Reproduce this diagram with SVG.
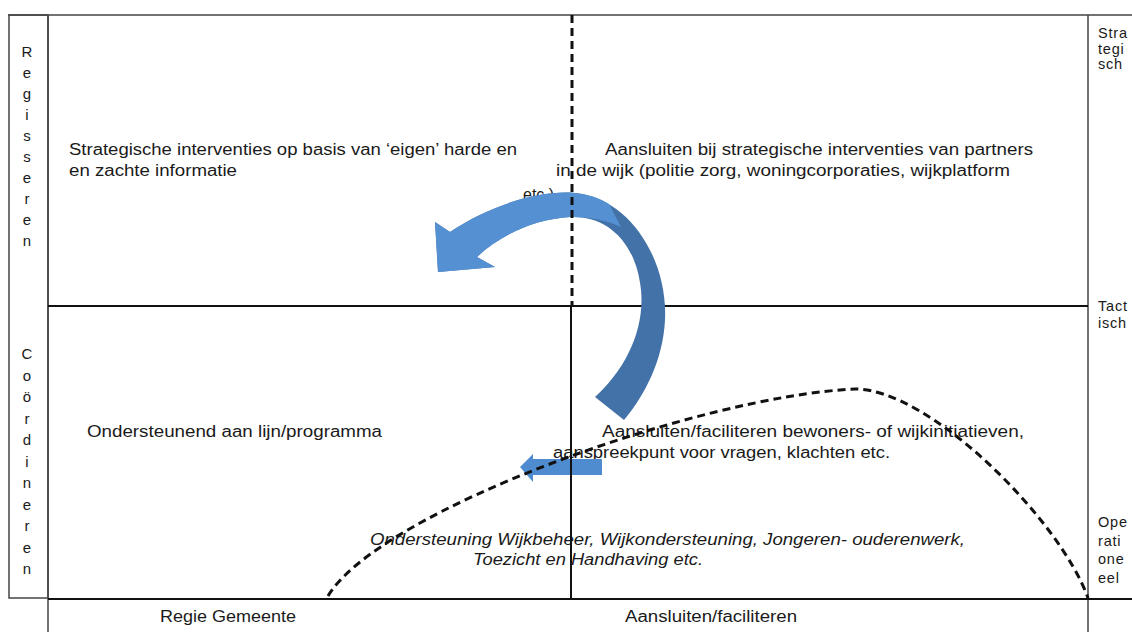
<svg xmlns="http://www.w3.org/2000/svg" width="1132" height="632" viewBox="0 0 1132 632">
<style>
.t{font-family:"Liberation Sans",Arial,sans-serif;font-size:16px;fill:#1a1a1a}
.it{font-style:italic}
.side{font-family:"Liberation Sans",Arial,sans-serif;font-size:15px;fill:#1a1a1a;text-anchor:middle}
.rs{font-family:"Liberation Sans",Arial,sans-serif;font-size:14.5px;letter-spacing:0.8px;fill:#1a1a1a}
.fr{stroke:#444;stroke-width:1.5;fill:none}
.ax{stroke:#111;stroke-width:2;fill:none}
.dash{stroke:#111;stroke-width:3;fill:none;stroke-dasharray:8 5}
</style>
<rect width="1132" height="632" fill="#fff"/>
<g id="frame">
<line class="fr" x1="8" y1="15" x2="1132" y2="15"/>
<rect class="fr" x="9" y="15" width="39" height="583"/>
<line class="fr" x1="48" y1="15" x2="48" y2="632"/>
<line class="fr" x1="1088" y1="15" x2="1088" y2="632"/>
<line class="ax" x1="48" y1="306" x2="1088" y2="306"/>
<line class="ax" x1="48" y1="599" x2="1132" y2="599"/>
</g>
<g id="row-labels">
<text class="side" x="27" y="57">R<tspan x="27" dy="21">e</tspan><tspan x="27" dy="21">g</tspan><tspan x="27" dy="21">i</tspan><tspan x="27" dy="21">s</tspan><tspan x="27" dy="21">s</tspan><tspan x="27" dy="21">e</tspan><tspan x="27" dy="21">r</tspan><tspan x="27" dy="21">e</tspan><tspan x="27" dy="21">n</tspan></text>
<text class="side" x="27" y="359">C<tspan x="27" dy="21.5">o</tspan><tspan x="27" dy="21.5">ö</tspan><tspan x="27" dy="21.5">r</tspan><tspan x="27" dy="21.5">d</tspan><tspan x="27" dy="21.5">i</tspan><tspan x="27" dy="21.5">n</tspan><tspan x="27" dy="21.5">e</tspan><tspan x="27" dy="21.5">r</tspan><tspan x="27" dy="21.5">e</tspan><tspan x="27" dy="21.5">n</tspan></text>
<text class="rs" x="1098" y="38">Stra<tspan x="1098" dy="15.5">tegi</tspan><tspan x="1098" dy="15.5">sch</tspan></text>
<text class="rs" x="1098" y="311">Tact<tspan x="1098" dy="16.5">isch</tspan></text>
<text class="rs" x="1098" y="527">Ope<tspan x="1098" dy="18.5">rati</tspan><tspan x="1098" dy="18.5">one</tspan><tspan x="1098" dy="18.5">eel</tspan></text>
</g>
<g id="q-strategisch-regie">
<text class="t" x="69" y="155" textLength="448" lengthAdjust="spacingAndGlyphs">Strategische interventies op basis van ‘eigen’ harde en</text>
<text class="t" x="69" y="176" textLength="168" lengthAdjust="spacingAndGlyphs">en zachte informatie</text>
</g>
<g id="q-strategisch-aansluiten">
<text class="t" x="605" y="155" textLength="428" lengthAdjust="spacingAndGlyphs">Aansluiten bij strategische interventies van partners</text>
<text class="t" x="556" y="176" textLength="454" lengthAdjust="spacingAndGlyphs">in de wijk (politie zorg, woningcorporaties, wijkplatform</text>
<text class="t" x="523" y="200">etc.)</text>
</g>
<g id="q-coord-regie">
<text class="t" x="87" y="437" textLength="295" lengthAdjust="spacingAndGlyphs">Ondersteunend aan lijn/programma</text>
</g>
<g id="q-coord-aansluiten">
<text class="t" x="602" y="437" textLength="422" lengthAdjust="spacingAndGlyphs">Aansluiten/faciliteren bewoners- of wijkinitiatieven,</text>
<text class="t" x="553" y="458" textLength="337" lengthAdjust="spacingAndGlyphs">aanspreekpunt voor vragen, klachten etc.</text>
</g>
<g id="operationeel">
<text class="t it" x="370" y="545" textLength="595" lengthAdjust="spacingAndGlyphs">Ondersteuning Wijkbeheer, Wijkondersteuning, Jongeren- ouderenwerk,</text>
<text class="t it" x="473" y="565" textLength="230" lengthAdjust="spacingAndGlyphs">Toezicht en Handhaving etc.</text>
</g>
<g id="col-labels">
<text class="t" x="160" y="622" textLength="136" lengthAdjust="spacingAndGlyphs">Regie Gemeente</text>
<text class="t" x="625" y="622" textLength="172" lengthAdjust="spacingAndGlyphs">Aansluiten/faciliteren</text>
</g>
<g id="connectors">
<path id="big-arrow-back" fill="#4372A8" d="M450 232 C490 205 540 190 575 193 C630 198 668 260 665 320 C663 360 645 395 624 420 L595 397 C625 370 645 330 641 290 C636 240 605 215 570 217 C535 219 500 235 477 257 L495 267 L438 272 L435 222 Z"/>
<path id="big-arrow-front" fill="#5590D2" d="M450 232 C490 205 540 190 575 193 Q595 195 609 204 L621 227 Q597 216 570 217 C535 219 500 235 477 257 L495 267 L438 272 L435 222 Z"/>
<path id="small-arrow" fill="#4E8CCF" d="M602 459 L533 459 L533 454 L520 467 L533 482 L533 475 L602 475 Z"/>
<line class="ax" x1="571" y1="306" x2="571" y2="599"/>
<line class="dash" x1="572" y1="15" x2="572" y2="306"/>
<path class="dash" d="M328 596 C380 510 700 396 855 389 C930 389 1060 520 1088 598"/>
</g>
</svg>
